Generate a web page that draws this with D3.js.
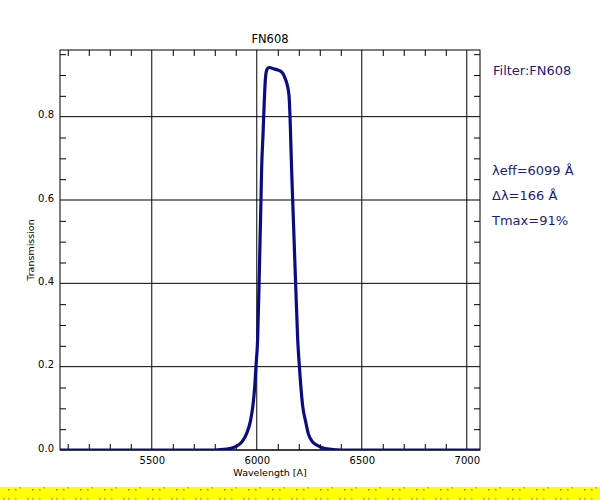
<!DOCTYPE html>
<html>
<head>
<meta charset="utf-8">
<script src="https://cdn.jsdelivr.net/npm/d3@7"></script>
<style>
  body { margin: 0; background: #fff; }
  svg { display: block; font-family: "DejaVu Sans", sans-serif; }
</style>
</head>
<body>
<div id="chart"></div>
<script>
// filter curve (wavelength in A, transmission 0..1)
const wavelength = [5000, 5800, 5857, 5900, 5930, 5952, 5970, 5981, 5990, 5996, 6004, 6011, 6020, 6023, 6030, 6036, 6041, 6046, 6052, 6060, 6080, 6100, 6111, 6125, 6134, 6143, 6150, 6155, 6159, 6166, 6171, 6185, 6195, 6203, 6219, 6232, 6245, 6265, 6285, 6320, 6363, 6400, 7100];
const transmission = [0, 0, 0.002, 0.008, 0.02, 0.04, 0.07, 0.104, 0.15, 0.2, 0.264, 0.4, 0.6, 0.672, 0.76, 0.84, 0.89, 0.91, 0.916, 0.918, 0.915, 0.912, 0.91, 0.903, 0.893, 0.88, 0.864, 0.84, 0.79, 0.672, 0.6, 0.4, 0.264, 0.2, 0.104, 0.07, 0.04, 0.02, 0.012, 0.004, 0.001, 0, 0];

const xMajor = [5500, 6000, 6500, 7000];
const xMinor = [5100, 5200, 5300, 5400, 5600, 5700, 5800, 5900, 6100, 6200, 6300, 6400, 6600, 6700, 6800, 6900];
const yMajor = [0.0, 0.2, 0.4, 0.6, 0.8];
const yMinor = [0.05, 0.1, 0.15, 0.25, 0.3, 0.35, 0.45, 0.5, 0.55, 0.65, 0.7, 0.75, 0.85, 0.9, 0.95];

const filterName = "FN608";
const infoLines = ["\u03BBeff=6099 \u00C5", "\u0394\u03BB=166 \u00C5", "Tmax=91%"];

const width = 600, height = 500;
const margin = { left: 60, right: 120, top: 50, bottom: 50 };
const plotW = width - margin.left - margin.right;   // 420
const plotH = height - margin.top - margin.bottom;  // 400

const svg = d3.select("#chart").append("svg")
    .attr("width", width)
    .attr("height", height);

const x = d3.scaleLinear().domain([5063, 7063]).range([margin.left, margin.left + plotW]);
const y = d3.scaleLinear().domain([0, 0.96]).range([margin.top + plotH, margin.top]);

svg.append("defs").append("clipPath").attr("id", "plotclip")
    .append("rect")
    .attr("x", margin.left).attr("y", margin.top - 4)
    .attr("width", plotW).attr("height", plotH + 4);

// --- grid lines at major ticks ---
const grid = svg.append("g").attr("stroke", "#000").attr("stroke-width", 1);
grid.selectAll(".vg").data(xMajor).enter().append("line")
    .attr("x1", d => x(d)).attr("x2", d => x(d))
    .attr("y1", margin.top).attr("y2", margin.top + plotH);
grid.selectAll(".hg").data(yMajor).enter().append("line")
    .attr("y1", d => y(d)).attr("y2", d => y(d))
    .attr("x1", margin.left).attr("x2", margin.left + plotW);

// --- minor ticks on all four sides (pointing in) ---
const tl = 6;
function minorAxis(axis, transform) {
    const g = svg.append("g").attr("transform", transform).call(axis);
    g.select(".domain").remove();
    g.selectAll("line").attr("stroke", "#000");
    g.selectAll("text").remove();
}
minorAxis(d3.axisBottom(x).tickValues(xMinor).tickSize(-tl), `translate(0,${margin.top + plotH})`);
minorAxis(d3.axisTop(x).tickValues(xMinor).tickSize(-tl), `translate(0,${margin.top})`);
minorAxis(d3.axisLeft(y).tickValues(yMinor).tickSize(-tl), `translate(${margin.left},0)`);
minorAxis(d3.axisRight(y).tickValues(yMinor).tickSize(-tl), `translate(${margin.left + plotW},0)`);

// --- frame ---
svg.append("rect")
    .attr("x", margin.left).attr("y", margin.top)
    .attr("width", plotW).attr("height", plotH)
    .attr("fill", "none").attr("stroke", "#000").attr("stroke-width", 1);

// --- tick labels ---
const xLab = svg.append("g")
    .attr("transform", `translate(0,${margin.top + plotH + 4})`)
    .call(d3.axisBottom(x).tickValues(xMajor).tickSize(0).tickFormat(d3.format("d")));
xLab.select(".domain").remove();
xLab.selectAll("text").attr("font-size", 10).attr("font-family", "DejaVu Sans").attr("fill", "#000");

const yLab = svg.append("g")
    .attr("transform", `translate(${margin.left - 3},0)`)
    .call(d3.axisLeft(y).tickValues(yMajor).tickSize(0).tickFormat(d3.format(".1f")));
yLab.select(".domain").remove();
yLab.selectAll("text").attr("font-size", 10).attr("font-family", "DejaVu Sans").attr("fill", "#000")
    .attr("dy", "0.1em");

// --- curve ---
const line = d3.line()
    .x((d, i) => x(wavelength[i]))
    .y(d => y(d))
    .curve(d3.curveMonotoneX);

svg.append("path")
    .datum(transmission)
    .attr("clip-path", "url(#plotclip)")
    .attr("d", line)
    .attr("fill", "none")
    .attr("stroke", "#0c0c82")
    .attr("stroke-width", 3.2)
    .attr("stroke-linejoin", "round");

// --- titles ---
svg.append("text")
    .attr("x", margin.left + plotW / 2).attr("y", 43)
    .attr("text-anchor", "middle")
    .attr("font-size", 11.5)
    .text(filterName);

svg.append("text")
    .attr("x", margin.left + plotW / 2).attr("y", 476)
    .attr("text-anchor", "middle")
    .attr("font-size", 9.5)
    .text("Wavelength [A]");

svg.append("text")
    .attr("transform", `translate(34,${margin.top + plotH / 2}) rotate(-90)`)
    .attr("text-anchor", "middle")
    .attr("font-size", 9.5)
    .text("Transmission");

// --- info text on the right ---
svg.append("text")
    .attr("x", 493).attr("y", 75)
    .attr("font-size", 13)
    .attr("fill", "#1c1c80")
    .text("Filter:" + filterName);

svg.selectAll(".info").data(infoLines).enter().append("text")
    .attr("class", "info")
    .attr("x", 492)
    .attr("y", (d, i) => 175 + i * 25)
    .attr("font-size", 13)
    .attr("fill", "#1c1c80")
    .text(d => d);

// --- yellow strip at the bottom ---
const pat = svg.select("defs").append("pattern")
    .attr("id", "dots").attr("patternUnits", "userSpaceOnUse")
    .attr("width", 24).attr("height", 13);
pat.append("rect").attr("width", 24).attr("height", 13).attr("fill", "#ffff00");
[[3, 4, "#c87838"], [8, 4, "#d09050"], [8, 8, "#c06030"], [15, 4, "#b8a060"], [15, 8, "#d07040"], [19, 6, "#c89858"]]
    .forEach(p => pat.append("rect").attr("x", p[0]).attr("y", p[1]).attr("width", 1.5).attr("height", 1.5).attr("fill", p[2]));

svg.append("rect")
    .attr("x", 0).attr("y", 487)
    .attr("width", width).attr("height", 13)
    .attr("fill", "url(#dots)");
</script>
</body>
</html>
